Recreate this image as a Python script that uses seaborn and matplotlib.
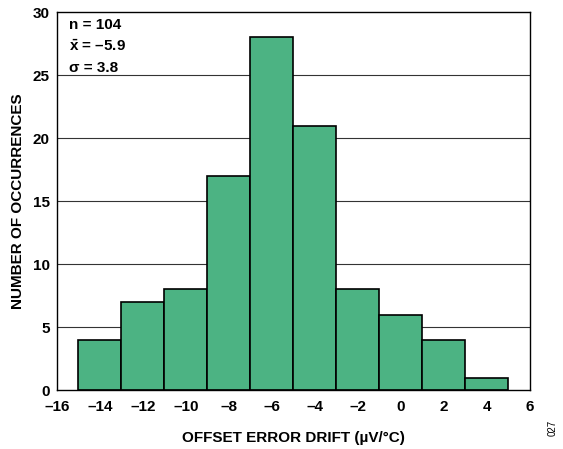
import matplotlib
matplotlib.use("Agg")
import matplotlib.pyplot as plt
import seaborn as sns
import numpy as np

bin_edges = [-15, -13, -11, -9, -7, -5, -3, -1, 1, 3, 5]
counts = [4, 7, 8, 17, 28, 21, 8, 6, 4, 1]
bin_centers = [-14, -12, -10, -8, -6, -4, -2, 0, 2, 4]
xticks = [-16, -14, -12, -10, -8, -6, -4, -2, 0, 2, 4, 6]
xtick_labels = ["\u201316", "\u201314", "\u201312", "\u201310", "\u20138", "\u20136",
                "\u20134", "\u20132", "0", "2", "4", "6"]
yticks = [0, 5, 10, 15, 20, 25, 30]

sns.set_style("white")
plt.rcParams['font.family'] = ['Liberation Sans', 'DejaVu Sans']
plt.rcParams['text.color'] = 'black'
plt.rcParams['axes.labelcolor'] = 'black'
plt.rcParams['xtick.color'] = 'black'
plt.rcParams['ytick.color'] = 'black'
plt.rcParams['mathtext.fontset'] = 'custom'
plt.rcParams['mathtext.bf'] = 'Liberation Sans:bold'
plt.rcParams['mathtext.rm'] = 'Liberation Sans:bold'

fig = plt.figure(figsize=(5.63, 4.49), dpi=100)
ax = fig.add_axes([0.101, 0.131, 0.84, 0.842])

ax.set_axisbelow(True)
for y in yticks[1:-1]:
    ax.axhline(y, color="#333333", lw=0.8, zorder=0)

sns.histplot(x=bin_centers, weights=counts, bins=bin_edges, ax=ax,
             color="#4CB383", alpha=1, edgecolor="black", linewidth=1.2)

ax.set_xlim(-16, 6)
ax.set_ylim(0, 30)
ax.set_xticks(xticks)
ax.set_xticklabels(xtick_labels, fontweight="bold", fontsize=11)
ax.set_yticks(yticks)
ax.set_yticklabels([str(v) for v in yticks], fontweight="bold", fontsize=11)
ax.tick_params(axis="x", length=0, pad=7)
ax.tick_params(axis="y", length=0, pad=5)
ax.set_xlabel("OFFSET ERROR DRIFT (\u00b5V/\u00b0C)", fontweight="bold", fontsize=11, labelpad=12)
ax.set_ylabel("NUMBER OF OCCURRENCES", fontweight="bold", fontsize=11, labelpad=6)
for s in ax.spines.values():
    s.set_color("black")
    s.set_linewidth(1.0)

ax.text(0.025, 0.985, "n = 104\n$\\mathbf{\\bar{x}}$ = \u20135.9\n\u03c3 = 3.8", transform=ax.transAxes,
        va="top", ha="left", fontweight="bold", fontsize=11, linespacing=1.6)

fig.text(0.982, 0.03, "027", rotation=90, fontsize=7, ha="center", va="bottom")

fig.savefig("out.png", dpi=100)
